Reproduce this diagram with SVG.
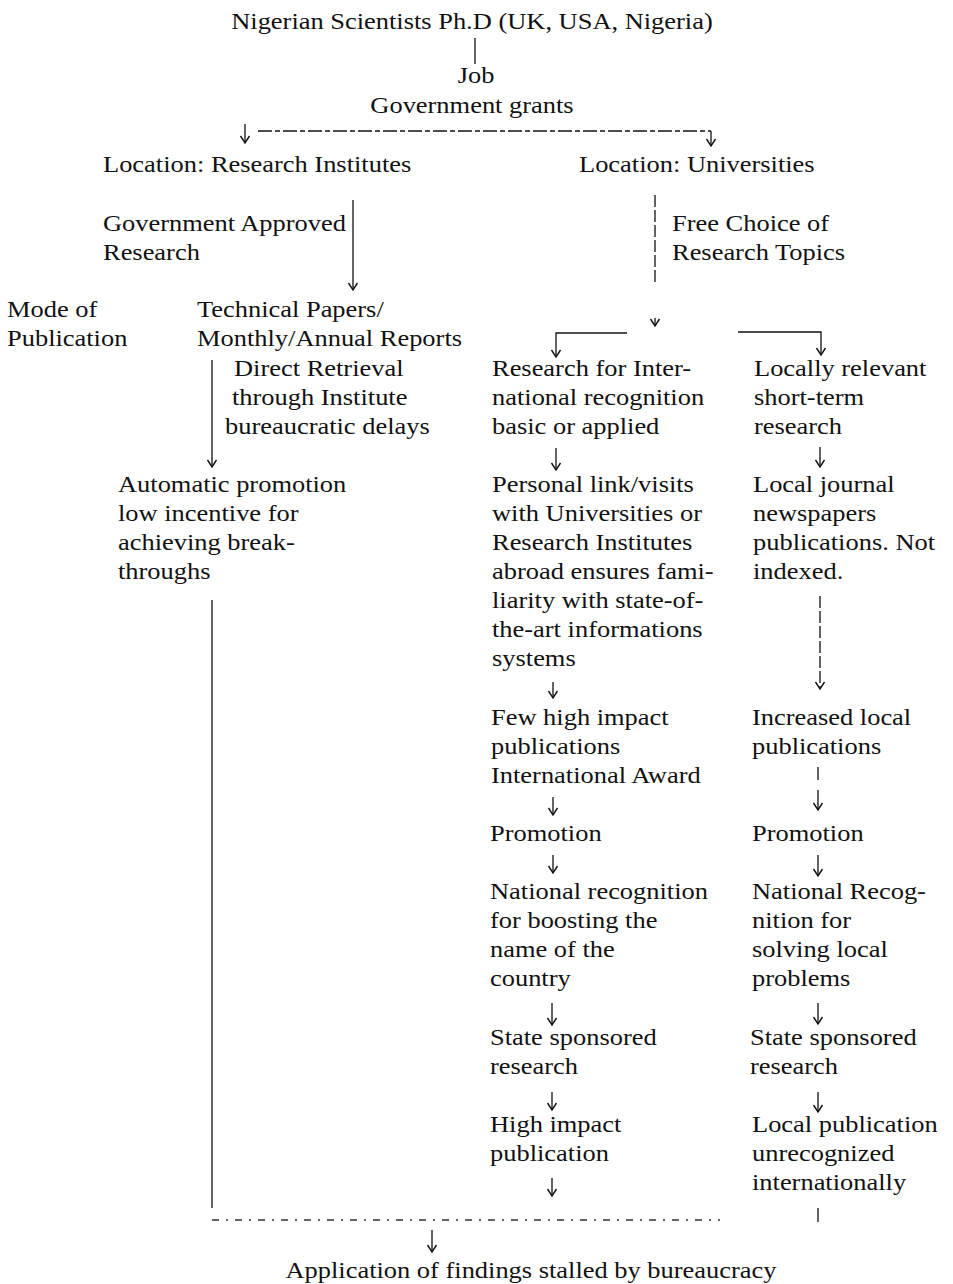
<svg xmlns="http://www.w3.org/2000/svg" width="953" height="1284" viewBox="0 0 953 1284">
<style>
text{font-family:"Liberation Serif","Times New Roman",serif;font-size:23px;fill:#111}
.c{text-anchor:middle}
.ln{stroke:#111;stroke-width:1.3;fill:none}
.ds{stroke-dasharray:14 3 5 3}
.dv{stroke-dasharray:12 3}
.db{stroke-dasharray:7 7 2 7;stroke:#333}
.ar{marker-end:url(#ah)}
</style>
<defs>
<marker id="ah" markerUnits="userSpaceOnUse" markerWidth="14" markerHeight="14" viewBox="-7 -7 14 14" refX="0" refY="0" orient="auto" overflow="visible">
<path d="M-7,-4.5 L0,0 L-7,4.5" fill="none" stroke="#111" stroke-width="1.4"/>
</marker>
</defs>
<rect width="953" height="1284" fill="#fff"/>
<g transform="scale(1.15 1)">
<g id="n-top"><text class="c" x="410.43" y="29">Nigerian Scientists Ph.D (UK, USA, Nigeria)</text></g>
<g id="n-job"><text class="c" x="413.91" y="83">Job</text><text class="c" x="410.43" y="113">Government grants</text></g>
<g id="n-ri"><text x="89.57" y="172">Location: Research Institutes</text></g>
<g id="n-uni"><text x="503.48" y="172">Location: Universities</text></g>
<g id="n-gar"><text x="89.57" y="231">Government Approved</text><text x="89.57" y="260">Research</text></g>
<g id="n-fc"><text x="584.35" y="231">Free Choice of</text><text x="584.35" y="260">Research Topics</text></g>
<g id="n-mode"><text x="6.09" y="317">Mode of</text><text x="6.09" y="346">Publication</text></g>
<g id="n-tp"><text x="171.3" y="317">Technical Papers/</text><text x="171.3" y="346">Monthly/Annual Reports</text></g>
<g id="n-dr"><text x="203.48" y="376">Direct Retrieval</text><text x="201.74" y="405">through Institute</text><text x="195.65" y="434">bureaucratic delays</text></g>
<g id="n-ap"><text x="102.61" y="492">Automatic promotion</text><text x="102.61" y="521">low incentive for</text><text x="102.61" y="550">achieving break-</text><text x="102.61" y="579">throughs</text></g>
<g id="n-ir"><text x="427.83" y="376">Research for Inter-</text><text x="427.83" y="405">national recognition</text><text x="427.83" y="434">basic or applied</text></g>
<g id="n-pl"><text x="427.83" y="492">Personal link/visits</text><text x="427.83" y="521">with Universities or</text><text x="427.83" y="550">Research Institutes</text><text x="427.83" y="579">abroad ensures fami-</text><text x="427.83" y="608">liarity with state-of-</text><text x="427.83" y="637">the-art informations</text><text x="427.83" y="666">systems</text></g>
<g id="n-few"><text x="426.96" y="725">Few high impact</text><text x="426.96" y="754">publications</text><text x="426.96" y="783">International Award</text></g>
<g id="n-pr1"><text x="426.09" y="841">Promotion</text></g>
<g id="n-nr1"><text x="426.09" y="899">National recognition</text><text x="426.09" y="928">for boosting the</text><text x="426.09" y="957">name of the</text><text x="426.09" y="986">country</text></g>
<g id="n-ss1"><text x="426.09" y="1045">State sponsored</text><text x="426.09" y="1074">research</text></g>
<g id="n-hi"><text x="426.09" y="1132">High impact</text><text x="426.09" y="1161">publication</text></g>
<g id="n-lr"><text x="655.65" y="376">Locally relevant</text><text x="655.65" y="405">short-term</text><text x="655.65" y="434">research</text></g>
<g id="n-lj"><text x="654.78" y="492">Local journal</text><text x="654.78" y="521">newspapers</text><text x="654.78" y="550">publications. Not</text><text x="654.78" y="579">indexed.</text></g>
<g id="n-il"><text x="653.91" y="725">Increased local</text><text x="653.91" y="754">publications</text></g>
<g id="n-pr2"><text x="653.91" y="841">Promotion</text></g>
<g id="n-nr2"><text x="653.91" y="899">National Recog-</text><text x="653.91" y="928">nition for</text><text x="653.91" y="957">solving local</text><text x="653.91" y="986">problems</text></g>
<g id="n-ss2"><text x="652.17" y="1045">State sponsored</text><text x="652.17" y="1074">research</text></g>
<g id="n-lp"><text x="653.91" y="1132">Local publication</text><text x="653.91" y="1161">unrecognized</text><text x="653.91" y="1190">internationally</text></g>
<g id="n-app"><text class="c" x="461.74" y="1278">Application of findings stalled by bureaucracy</text></g>
</g>
<g id="connectors">
<path class="ln" d="M475,38 L475,64"/>
<path class="ln ds" d="M258,131 L711,131"/>
<path class="ln ar" d="M711,131 L711,146"/>
<path class="ln ar" d="M245,124 L245,143"/>
<path class="ln ar" d="M353,200 L353,290"/>
<path class="ln dv" d="M655,195 L655,284"/>
<path class="ln ar" d="M655,318 L655,326"/>
<path class="ln ar" d="M627,333 L556,333 L556,357"/>
<path class="ln ar" d="M738,332 L821,332 L821,355"/>
<path class="ln ar" d="M212,360 L212,467"/>
<path class="ln ar" d="M556,448 L556,470"/>
<path class="ln ar" d="M553,682 L553,698"/>
<path class="ln ar" d="M553,797 L553,815"/>
<path class="ln ar" d="M553,855 L553,873"/>
<path class="ln ar" d="M552,1003 L552,1025"/>
<path class="ln ar" d="M552,1092 L552,1110"/>
<path class="ln ar" d="M552,1178 L552,1196"/>
<path class="ln ar" d="M820,447 L820,467"/>
<path class="ln dv ar" d="M820,596 L820,689"/>
<path class="ln ar" d="M818,767 L818,780 M818,790 L818,810"/>
<path class="ln ar" d="M818,855 L818,876"/>
<path class="ln ar" d="M818,1003 L818,1024"/>
<path class="ln ar" d="M818,1092 L818,1112"/>
<path class="ln" d="M818,1208 L818,1222"/>
<path class="ln" d="M212,600 L212,1208"/>
<path class="ln db" d="M212,1220 L720,1220"/>
<path class="ln ar" d="M432,1230 L432,1252"/>
</g>
</svg>
